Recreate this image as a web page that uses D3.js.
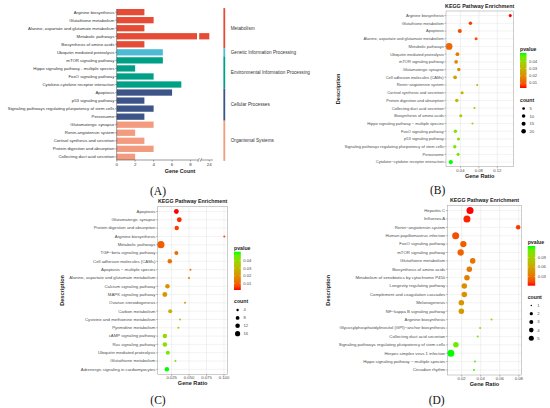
<!DOCTYPE html>
<html>
<head>
<meta charset="utf-8">
<script src="https://cdn.jsdelivr.net/npm/d3@7"></script>
<style>
  body { margin: 0; background: #fff; }
  svg { display: block; font-family: "Liberation Sans", Arial, sans-serif; }
</style>
</head>
<body>
<svg id="fig" width="550" height="408"></svg>
<script>
// ---- panel A: gene counts per pathway ----
var aPathways = ['Arginine biosynthesis', 'Glutathione metabolism', 'Alanine, aspartate and glutamate metabolism',
  'Metabolic pathways', 'Biosynthesis of amino acids', 'Ubiquitin mediated proteolysis', 'mTOR signaling pathway',
  'Hippo signaling pathway - multiple species', 'FoxO signaling pathway', 'Cytokine-cytokine receptor interaction',
  'Apoptosis', 'p53 signaling pathway', 'Signaling pathways regulating pluripotency of stem cells', 'Peroxisome',
  'Glutamatergic synapse', 'Renin-angiotensin system', 'Cortisol synthesis and secretion',
  'Protein digestion and absorption', 'Collecting duct acid secretion']
var aCounts = [3, 4, 3, 24, 3, 5, 5, 2, 4, 7, 6, 3, 4, 3, 4, 2, 3, 4, 2]
var aGroup = [0, 0, 0, 0, 0, 1, 2, 2, 2, 2, 3, 3, 3, 3, 4, 4, 4, 4, 4]
var aGroupNames = ['Metabolism', 'Genetic Information Processing', 'Environmental Information Processing',
  'Cellular Processes', 'Organismal Systems']
var aGroupColors = ['#E64B35', '#4DBBD5', '#00A087', '#3C5488', '#F39B7F']
var aTicks = [0, 2, 4, 6, 8, 24]

// ---- panel B ----
var bNames = ['Arginine biosynthesis', 'Glutathione metabolism', 'Apoptosis', 'Alanine, aspartate and glutamate metabolism',
  'Metabolic pathways', 'Ubiquitin mediated proteolysis', 'mTOR signaling pathway', 'Glutamatergic synapse',
  'Cell adhesion molecules (CAMs)', 'Renin\u2212angiotensin system', 'Cortisol synthesis and secretion',
  'Protein digestion and absorption', 'Collecting duct acid secretion', 'Biosynthesis of amino acids',
  'Hippo signaling pathway \u2212 multiple species', 'FoxO signaling pathway', 'p53 signaling pathway',
  'Signaling pathways regulating pluripotency of stem cells', 'Peroxisome', 'Cytokine\u2212cytokine receptor interaction']
var bRatio = [0.148, 0.0617, 0.0387, 0.0741, 0.0154, 0.0335, 0.0307, 0.0365, 0.0285, 0.0763,
  0.0437, 0.0322, 0.0704, 0.0409, 0.0661, 0.0291, 0.0357, 0.0278, 0.035, 0.0191]
var bCount = [3, 4, 6, 3, 24, 5, 5, 4, 5, 2, 3, 4, 2, 3, 2, 4, 3, 4, 3, 7]
var bPvalue = [0.003, 0.006, 0.008, 0.009, 0.012, 0.016, 0.018, 0.02, 0.024, 0.027,
  0.029, 0.031, 0.033, 0.035, 0.037, 0.042, 0.043, 0.045, 0.046, 0.0515]

// ---- panel C ----
var cNames = ['Apoptosis', 'Glutamatergic synapse', 'Protein digestion and absorption', 'Arginine biosynthesis',
  'Metabolic pathways', 'TGF\u2212beta signaling pathway', 'Cell adhesion molecules (CAMs)', 'Apoptosis \u2212 multiple species',
  'Alanine, aspartate and glutamate metabolism', 'Calcium signaling pathway', 'MAPK signaling pathway',
  'Ovarian steroidogenesis', 'Carbon metabolism', 'Cysteine and methionine metabolism', 'Pyrimidine metabolism',
  'cAMP signaling pathway', 'Ras signaling pathway', 'Ubiquitin mediated proteolysis', 'Glutathione metabolism',
  'Adrenergic signaling in cardiomyocytes']
var cRatio = [0.0318, 0.036, 0.0323, 0.1005, 0.0096, 0.0318, 0.0224, 0.052, 0.0499, 0.019,
  0.0153, 0.0442, 0.0229, 0.0371, 0.0347, 0.0153, 0.0153, 0.0196, 0.0304, 0.0182]
var cCount = [7, 7, 6, 3, 16, 5, 6, 3, 3, 6, 7, 3, 5, 3, 3, 6, 6, 5, 3, 6]
var cPvalue = [0.0012, 0.003, 0.005, 0.007, 0.009, 0.012, 0.013, 0.014, 0.015, 0.02,
  0.021, 0.023, 0.028, 0.033, 0.034, 0.04, 0.041, 0.044, 0.046, 0.052]

// ---- panel D ----
var dNames = ['Hepatitis C', 'Influenza A', 'Renin\u2212angiotensin system', 'Human papillomavirus infection',
  'FoxO signaling pathway', 'mTOR signaling pathway', 'Glutathione metabolism', 'Biosynthesis of amino acids',
  'Metabolism of xenobiotics by cytochrome P450', 'Longevity regulating pathway', 'Complement and coagulation cascades',
  'Melanogenesis', 'NF\u2212kappa B signaling pathway', 'Arginine biosynthesis',
  'Glycosylphosphatidylinositol (GPI)\u2212anchor biosynthesis', 'Collecting duct acid secretion',
  'Signaling pathways regulating pluripotency of stem cells', 'Herpes simplex virus 1 infection',
  'Hippo signaling pathway \u2212 multiple species', 'Circadian rhythm']
var dRatio = [0.0288, 0.0256, 0.0793, 0.0137, 0.0218, 0.019, 0.0316, 0.0281, 0.0256, 0.0228,
  0.0228, 0.0197, 0.0197, 0.0514, 0.0394, 0.0369, 0.014, 0.0087, 0.0341, 0.033]
var dCount = [5, 5, 2, 5, 4, 4, 3, 3, 3, 3, 3, 3, 3, 1, 1, 1, 3, 5, 1, 1]
var dPvalue = [0.0012, 0.004, 0.008, 0.015, 0.02, 0.022, 0.03, 0.033, 0.036, 0.045,
  0.047, 0.05, 0.052, 0.09, 0.1, 0.105, 0.112, 0.126, 0.118, 0.121]

var svg = d3.select('#fig')
var TXT = '#4d4d4d'

function drawPanelA () {
  var g = svg.append('g')
  var y = d3.scaleBand().domain(aPathways).range([9, 160]).paddingInner(0.22)
  // broken axis: 0..8.7 then 22.9..24.4
  var x = d3.scaleLinear().domain([0, 8.7, 22.9, 24.4]).range([116.7, 197, 199.2, 213])

  aPathways.forEach(function (p, i) {
    var c = aCounts[i]
    var col = aGroupColors[aGroup[i]]
    if (c > 8.7) {
      g.append('rect').attr('x', x(0)).attr('y', y(p)).attr('height', y.bandwidth())
        .attr('width', x(8.7) - x(0)).attr('fill', col)
      g.append('rect').attr('x', x(22.9)).attr('y', y(p)).attr('height', y.bandwidth())
        .attr('width', x(c) - x(22.9)).attr('fill', col)
    } else {
      g.append('rect').attr('x', x(0)).attr('y', y(p)).attr('height', y.bandwidth())
        .attr('width', x(c) - x(0)).attr('fill', col)
    }
  })

  // y axis
  g.append('line').attr('x1', 116.7).attr('x2', 116.7).attr('y1', 9).attr('y2', 160)
    .attr('stroke', '#333').attr('stroke-width', 0.5)
  g.selectAll('.ytick').data(aPathways).join('line')
    .attr('x1', 115).attr('x2', 116.7)
    .attr('y1', d => y(d) + y.bandwidth() / 2).attr('y2', d => y(d) + y.bandwidth() / 2)
    .attr('stroke', '#333').attr('stroke-width', 0.4)
  g.selectAll('.ylab').data(aPathways).join('text')
    .attr('x', 114.3).attr('y', d => y(d) + y.bandwidth() / 2 + 1.5)
    .attr('text-anchor', 'end').attr('font-size', 4.3).attr('fill', '#333')
    .text(d => d)

  // x axis with break
  g.append('line').attr('x1', 116.7).attr('x2', 198.3).attr('y1', 160).attr('y2', 160)
    .attr('stroke', '#333').attr('stroke-width', 0.5)
  g.append('line').attr('x1', 201).attr('x2', 213).attr('y1', 160).attr('y2', 160)
    .attr('stroke', '#333').attr('stroke-width', 0.5)
  ;[0, 2.4].forEach(function (dx) {
    g.append('line').attr('x1', 197.6 + dx).attr('x2', 199.4 + dx).attr('y1', 161.8).attr('y2', 158.2)
      .attr('stroke', '#333').attr('stroke-width', 0.5)
  })
  g.selectAll('.xtick').data(aTicks).join('line')
    .attr('x1', d => x(d)).attr('x2', d => x(d)).attr('y1', 160).attr('y2', 161.6)
    .attr('stroke', '#333').attr('stroke-width', 0.4)
  g.selectAll('.xlab').data(aTicks).join('text')
    .attr('x', d => x(d)).attr('y', 165.8).attr('text-anchor', 'middle')
    .attr('font-size', 4.4).attr('fill', '#333').text(d => d)
  g.append('text').attr('x', 180).attr('y', 173.4).attr('text-anchor', 'middle')
    .attr('font-size', 5.4).attr('font-weight', 'bold').attr('fill', '#222').text('Gene Count')

  // category strip
  aGroupNames.forEach(function (name, k) {
    var rows = aPathways.filter((p, i) => aGroup[i] === k)
    var y0 = y(rows[0]) - y.step() * y.paddingInner() / 2
    var y1 = y(rows[rows.length - 1]) + y.bandwidth() + y.step() * y.paddingInner() / 2
    g.append('rect').attr('x', 223.4).attr('y', y0).attr('width', 1.8).attr('height', y1 - y0)
      .attr('fill', aGroupColors[k])
    g.append('text').attr('x', 230.7).attr('y', (y0 + y1) / 2 + 1.6)
      .attr('font-size', 4.7).attr('fill', '#333').text(name)
  })

  svg.append('text').attr('x', 158).attr('y', 194.5).attr('text-anchor', 'middle')
    .attr('font-family', '"Liberation Serif", "Times New Roman", serif').attr('font-size', 11.5)
    .attr('fill', '#111').text('(A)')
}

var gradId = 0
function dotPanel (cfg) {
  var g = svg.append('g')
  var b = cfg.box
  var ext = d3.extent(cfg.ratio)
  var pad = (ext[1] - ext[0]) * 0.05
  var x = d3.scaleLinear().domain([ext[0] - pad, ext[1] + pad]).range([b.l, b.r])
  var y = d3.scalePoint().domain(cfg.names).range([b.t, b.b]).padding(0.6)
  var cExt = d3.extent(cfg.count)
  var norm = d3.scaleLinear().domain(cExt).range([0, 1])
  var r = function (c) { return cfg.rMin + (cfg.rMax - cfg.rMin) * Math.sqrt(norm(c)) }
  var pExt = d3.extent(cfg.pvalue)
  var color = d3.scaleLinear().domain(pExt).range(['#FF0000', '#00FF00']).interpolate(d3.interpolateLab)

  g.append('rect').attr('x', b.l).attr('y', b.t).attr('width', b.r - b.l).attr('height', b.b - b.t)
    .attr('fill', '#fff')
  // minor vertical grid
  var step = cfg.ticks[1] - cfg.ticks[0]
  var minor = d3.range(cfg.ticks[0] - step * 1.5, x.domain()[1], step).map(v => v + step)
    .filter(v => v > x.domain()[0] && v < x.domain()[1])
  g.selectAll('.minor').data(minor).join('line')
    .attr('x1', d => x(d - step / 2)).attr('x2', d => x(d - step / 2)).attr('y1', b.t).attr('y2', b.b)
    .attr('stroke', '#f2f2f2').attr('stroke-width', 0.3)
  g.selectAll('.vmaj').data(cfg.ticks).join('line')
    .attr('x1', d => x(d)).attr('x2', d => x(d)).attr('y1', b.t).attr('y2', b.b)
    .attr('stroke', '#e6e6e6').attr('stroke-width', 0.5)
  g.selectAll('.hmaj').data(cfg.names).join('line')
    .attr('x1', b.l).attr('x2', b.r).attr('y1', d => y(d)).attr('y2', d => y(d))
    .attr('stroke', '#e6e6e6').attr('stroke-width', 0.5)

  g.selectAll('.dot').data(cfg.names).join('circle')
    .attr('cx', (d, i) => x(cfg.ratio[i])).attr('cy', d => y(d))
    .attr('r', (d, i) => r(cfg.count[i]))
    .attr('fill', (d, i) => color(cfg.pvalue[i]))

  g.append('rect').attr('x', b.l).attr('y', b.t).attr('width', b.r - b.l).attr('height', b.b - b.t)
    .attr('fill', 'none').attr('stroke', '#aaa').attr('stroke-width', 0.6)

  // axes
  g.selectAll('.yt').data(cfg.names).join('line')
    .attr('x1', b.l - 1.6).attr('x2', b.l).attr('y1', d => y(d)).attr('y2', d => y(d))
    .attr('stroke', '#555').attr('stroke-width', 0.4)
  g.selectAll('.yl').data(cfg.names).join('text')
    .attr('x', b.l - 2.3).attr('y', d => y(d) + 1.4).attr('text-anchor', 'end')
    .attr('font-size', cfg.fs).attr('fill', TXT).text(d => d)
  g.selectAll('.xt').data(cfg.ticks).join('line')
    .attr('x1', d => x(d)).attr('x2', d => x(d)).attr('y1', b.b).attr('y2', b.b + 1.6)
    .attr('stroke', '#555').attr('stroke-width', 0.4)
  g.selectAll('.xl').data(cfg.ticks).join('text')
    .attr('x', d => x(d)).attr('y', b.b + 5).attr('text-anchor', 'middle')
    .attr('font-size', 4.2).attr('fill', TXT).text(d => d3.format(cfg.fmt)(d))

  g.append('text').attr('x', (b.l + b.r) / 2).attr('y', b.b + 11).attr('text-anchor', 'middle')
    .attr('font-size', 5.6).attr('font-weight', 'bold').attr('fill', '#222').text('Gene Ratio')
  g.append('text').attr('transform', 'translate(' + cfg.descX + ',' + ((b.t + b.b) / 2) + ') rotate(-90)')
    .attr('text-anchor', 'middle').attr('font-size', 5.6).attr('font-weight', 'bold').attr('fill', '#222')
    .text('Description')
  g.append('text').attr('x', (b.l + b.r) / 2).attr('y', b.t - 3.5).attr('text-anchor', 'middle')
    .attr('font-size', 5.3).attr('font-weight', 'bold').attr('fill', '#222').text('KEGG Pathway Enrichment')

  // pvalue colour bar
  var L = cfg.leg
  var id = 'grad' + (gradId++)
  var grad = svg.append('defs').append('linearGradient').attr('id', id)
    .attr('x1', 0).attr('x2', 0).attr('y1', 1).attr('y2', 0)
  d3.range(0, 1.0001, 0.1).forEach(function (t) {
    grad.append('stop').attr('offset', t).attr('stop-color', color(pExt[0] + t * (pExt[1] - pExt[0])))
  })
  var py = d3.scaleLinear().domain(pExt).range([L.barB, L.barT])
  g.append('text').attr('x', L.x).attr('y', L.barT - 2.2).attr('font-size', 5.2)
    .attr('font-weight', 'bold').attr('fill', '#222').text('pvalue')
  g.append('rect').attr('x', L.x).attr('y', L.barT).attr('width', L.barW).attr('height', L.barB - L.barT)
    .attr('fill', 'url(#' + id + ')')
  g.selectAll('.pt').data(cfg.pTicks).join('text')
    .attr('x', L.x + L.barW + 2.5).attr('y', d => py(d) + 1.4).attr('font-size', 4.2).attr('fill', TXT)
    .text(d => d3.format(cfg.pFmt)(d))
  g.selectAll('.ptk').data(cfg.pTicks).join('line')
    .attr('x1', L.x).attr('x2', L.x + 1.2).attr('y1', d => py(d)).attr('y2', d => py(d))
    .attr('stroke', '#fff').attr('stroke-width', 0.4)
  g.selectAll('.ptk2').data(cfg.pTicks).join('line')
    .attr('x1', L.x + L.barW - 1.2).attr('x2', L.x + L.barW).attr('y1', d => py(d)).attr('y2', d => py(d))
    .attr('stroke', '#fff').attr('stroke-width', 0.4)

  // count legend
  g.append('text').attr('x', L.x).attr('y', L.cTop).attr('font-size', 5.2)
    .attr('font-weight', 'bold').attr('fill', '#222').text('count')
  cfg.cTicks.forEach(function (c, k) {
    var cy = L.cTop + 7 + k * L.cStep
    g.append('circle').attr('cx', L.x + 3.6).attr('cy', cy).attr('r', r(c) * 0.72).attr('fill', '#000')
    g.append('text').attr('x', L.x + 9.5).attr('y', cy + 1.4).attr('font-size', 4.2).attr('fill', TXT).text(c)
  })

  svg.append('text').attr('x', cfg.letter[0]).attr('y', cfg.letter[1]).attr('text-anchor', 'middle')
    .attr('font-family', '"Liberation Serif", "Times New Roman", serif').attr('font-size', 11.5)
    .attr('fill', '#111').text(cfg.letter[2])
}

drawPanelA()

dotPanel({
  names: bNames, ratio: bRatio, count: bCount, pvalue: bPvalue,
  box: { l: 446, r: 513.3, t: 11, b: 166.7 }, ticks: [0.04, 0.08, 0.12], fmt: '.2f', fs: 4.0,
  rMin: 1.0, rMax: 3.4, descX: 339.5,
  leg: { x: 520, barT: 53, barB: 88, barW: 6.5, cTop: 101.5, cStep: 7.6 }, pTicks: [0.01, 0.02, 0.03, 0.04], pFmt: '.2f',
  cTicks: [5, 10, 15, 20], letter: [437.7, 193.5, '(B)']
})

dotPanel({
  names: cNames, ratio: cRatio, count: cCount, pvalue: cPvalue,
  box: { l: 157.7, r: 227.5, t: 206.5, b: 374.3 }, ticks: [0.025, 0.05, 0.075, 0.1], fmt: '.3f', fs: 4.3,
  rMin: 1.0, rMax: 3.6, descX: 63.8,
  leg: { x: 234, barT: 251.7, barB: 290, barW: 6.8, cTop: 303, cStep: 7.9 }, pTicks: [0.01, 0.02, 0.03, 0.04], pFmt: '.2f',
  cTicks: [4, 8, 12, 16], letter: [158, 404, '(C)']
})

dotPanel({
  names: dNames, ratio: dRatio, count: dCount, pvalue: dPvalue,
  box: { l: 447.5, r: 521.5, t: 205.5, b: 375 }, ticks: [0.02, 0.04, 0.06, 0.08], fmt: '.2f', fs: 4.3,
  rMin: 1.0, rMax: 3.5, descX: 329.8,
  leg: { x: 527.7, barT: 246, barB: 285.7, barW: 7.5, cTop: 298.5, cStep: 8.2 }, pTicks: [0.03, 0.06, 0.09], pFmt: '.2f',
  cTicks: [1, 2, 3, 4, 5], letter: [436.7, 403.5, '(D)']
})
</script>
</body>
</html>
